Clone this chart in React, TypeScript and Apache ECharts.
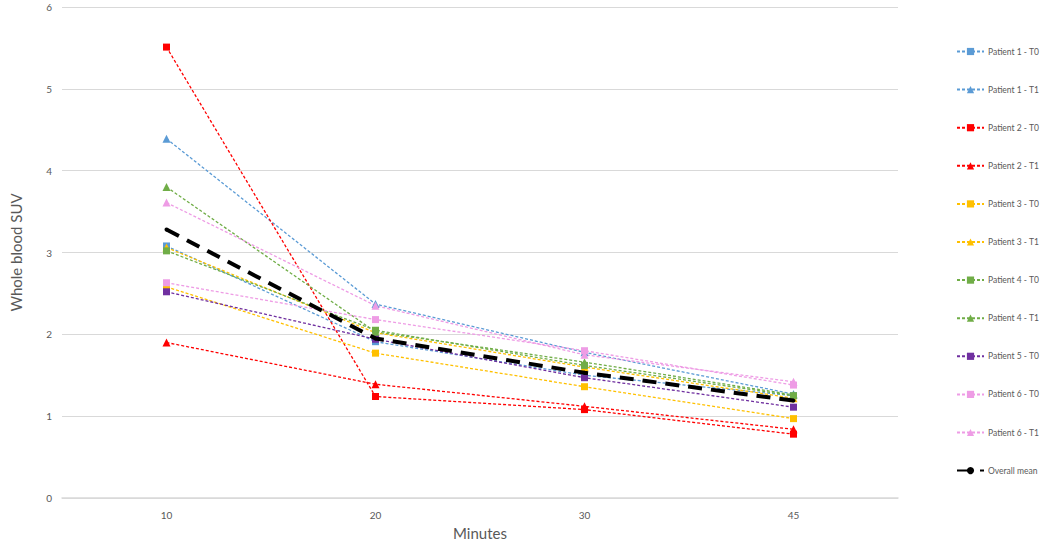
import React, { useEffect, useRef } from "react";
import * as echarts from "echarts";

const categories = ["10", "20", "30", "45"];
const seriesNames = [
  "Patient 1 - T0",
  "Patient 1 - T1",
  "Patient 2 - T0",
  "Patient 2 - T1",
  "Patient 3 - T0",
  "Patient 3 - T1",
  "Patient 4 - T0",
  "Patient 4 - T1",
  "Patient 5 - T0",
  "Patient 6 - T0",
  "Patient 6 - T1",
];
const p1t0 = [3.08, 1.91, 1.5, 1.25];
const p1t1 = [4.39, 2.37, 1.78, 1.27];
const p2t0 = [5.51, 1.24, 1.08, 0.78];
const p2t1 = [1.9, 1.39, 1.12, 0.84];
const p3t0 = [2.58, 1.77, 1.36, 0.97];
const p3t1 = [3.06, 2.02, 1.6, 1.22];
const p4t0 = [3.02, 2.05, 1.62, 1.25];
const p4t1 = [3.8, 2.03, 1.66, 1.26];
const p5t0 = [2.52, 1.94, 1.47, 1.11];
const p6t0 = [2.63, 2.18, 1.8, 1.38];
const p6t1 = [3.61, 2.35, 1.75, 1.42];
const overallMean = [3.28, 1.95, 1.53, 1.19];

const seriesData = [p1t0, p1t1, p2t0, p2t1, p3t0, p3t1, p4t0, p4t1, p5t0, p6t0, p6t1];
const seriesColors = [
  "#5B9BD5", "#5B9BD5", "#FF0000", "#FF0000", "#FFC000", "#FFC000",
  "#70AD47", "#70AD47", "#7030A0", "#EE9CE5", "#EE9CE5",
];
const seriesSymbols = ["rect", "triangle", "rect", "triangle", "rect", "triangle", "rect", "triangle", "rect", "rect", "triangle"];

const FONT = "Lato, 'Open Sans', sans-serif";

export default function App() {
  const ref = useRef<HTMLDivElement>(null);
  useEffect(() => {
    if (!ref.current) return;
    const chart = echarts.init(ref.current, undefined, { renderer: "svg" });
    const series: any[] = seriesNames.map((name, i) => ({
      name,
      type: "line",
      data: seriesData[i],
      symbol: seriesSymbols[i],
      symbolSize: seriesSymbols[i] === "rect" ? 7 : 8,
      showSymbol: true,
      color: seriesColors[i],
      itemStyle: { color: seriesColors[i] },
      lineStyle: { color: seriesColors[i], width: 1.3, type: [3, 2] },
      z: 3,
    }));
    series.push({
      name: "Overall mean",
      type: "line",
      data: overallMean,
      symbol: "circle",
      symbolSize: 4,
      color: "#000000",
      itemStyle: { color: "#000000" },
      lineStyle: { color: "#000000", width: 4, type: [14, 9] },
      z: 4,
    });
    chart.setOption({
      animation: false,
      backgroundColor: "#ffffff",
      textStyle: { fontFamily: FONT },
      grid: { left: 58, right: 142, top: 7, bottom: 40 },
      legend: {
        orient: "vertical",
        left: 956,
        top: 47,
        itemWidth: 27,
        itemHeight: 9,
        itemGap: 29.1,
        padding: 0,
        textStyle: { fontSize: 8.5, color: "#595959", fontFamily: FONT, padding: [0, 0, 0, -1] },
        data: [...seriesNames, "Overall mean"],
      },
      xAxis: {
        type: "category",
        data: categories,
        boundaryGap: true,
        name: "Minutes",
        nameLocation: "middle",
        nameGap: 27,
        nameTextStyle: { fontSize: 15, color: "#595959", fontFamily: FONT },
        axisLine: { lineStyle: { color: "#D9D9D9", width: 1.5 } },
        axisTick: { show: false },
        axisLabel: { fontSize: 10, color: "#595959", margin: 12 },
      },
      yAxis: {
        type: "value",
        min: 0,
        max: 6,
        interval: 1,
        name: "Whole blood SUV",
        nameLocation: "middle",
        nameGap: 39,
        nameTextStyle: { fontSize: 15, color: "#595959", fontFamily: FONT },
        axisLine: { show: false },
        axisTick: { show: false },
        axisLabel: { fontSize: 10, color: "#595959", margin: 10 },
        splitLine: { lineStyle: { color: "#D9D9D9", width: 1.2 } },
      },
      series,
    });
    return () => chart.dispose();
  }, []);
  return (
    <div
      ref={ref}
      style={{ position: "fixed", left: 0, top: 0, width: 1040, height: 545 }}
    />
  );
}
